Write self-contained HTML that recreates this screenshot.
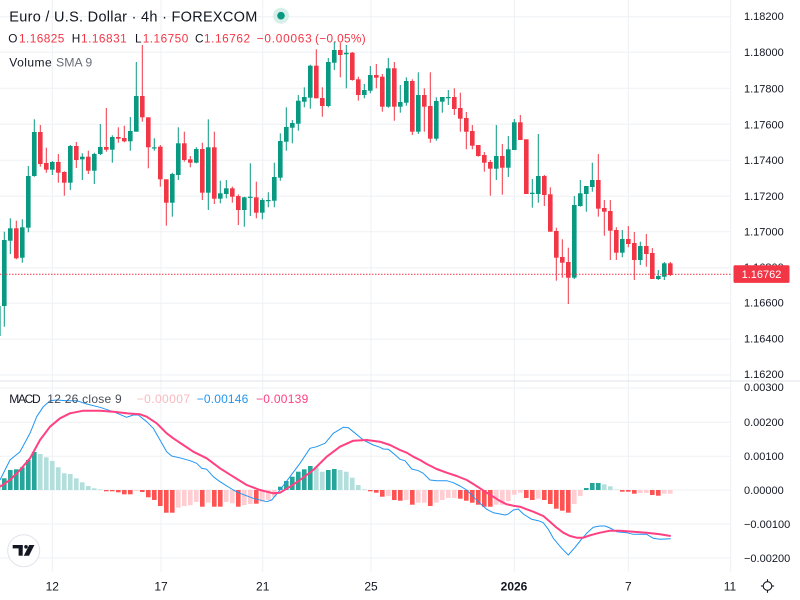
<!DOCTYPE html>
<html><head><meta charset="utf-8"><style>
html,body{margin:0;padding:0;background:#fff;}
svg{display:block;font-family:"Liberation Sans",Arial,sans-serif;}
</style></head><body>
<svg width="800" height="600" viewBox="0 0 800 600" xmlns="http://www.w3.org/2000/svg">
<rect width="800" height="600" fill="#fff"/>
<g stroke="#eef0f4" stroke-width="1">
<line x1="0" x2="731" y1="16.7" y2="16.7"/><line x1="0" x2="731" y1="52.3" y2="52.3"/><line x1="0" x2="731" y1="88.3" y2="88.3"/><line x1="0" x2="731" y1="124.3" y2="124.3"/><line x1="0" x2="731" y1="160.3" y2="160.3"/><line x1="0" x2="731" y1="196.3" y2="196.3"/><line x1="0" x2="731" y1="231.7" y2="231.7"/><line x1="0" x2="731" y1="267.7" y2="267.7"/><line x1="0" x2="731" y1="303.3" y2="303.3"/><line x1="0" x2="731" y1="339.3" y2="339.3"/><line x1="0" x2="731" y1="375" y2="375"/>
<line x1="0" x2="731" y1="388" y2="388"/><line x1="0" x2="731" y1="422.3" y2="422.3"/><line x1="0" x2="731" y1="456.3" y2="456.3"/><line x1="0" x2="731" y1="490" y2="490"/><line x1="0" x2="731" y1="524" y2="524"/><line x1="0" x2="731" y1="558" y2="558"/>
<line x1="52.3" x2="52.3" y1="0" y2="572"/><line x1="161" x2="161" y1="0" y2="572"/><line x1="262.7" x2="262.7" y1="0" y2="572"/><line x1="371" x2="371" y1="0" y2="572"/><line x1="514.3" x2="514.3" y1="0" y2="572"/><line x1="628.3" x2="628.3" y1="0" y2="572"/>
<line x1="730.7" x2="730.7" y1="0" y2="572"/>
</g>
<line x1="0" x2="800" y1="381" y2="381" stroke="#e0e3eb" stroke-width="1"/>

<!-- candles -->
<g transform="translate(0.3,0)" fill="#089981">
<rect x="-2.5" y="300" width="1" height="40"/><rect x="-4.3" y="306" width="4.6" height="30"/>
<rect x="3.5" y="231.7" width="1" height="95"/><rect x="1.7" y="240" width="4.6" height="66"/>
<rect x="9.5" y="218.3" width="1" height="35.7"/><rect x="7.7" y="228.3" width="4.6" height="12.4"/>
<rect x="21.5" y="219.3" width="1" height="43.4"/><rect x="19.7" y="227.3" width="4.6" height="30.4"/>
<rect x="27.5" y="166" width="1" height="66.3"/><rect x="25.7" y="176" width="4.6" height="51.7"/>
<rect x="33.5" y="119.3" width="1" height="57.4"/><rect x="31.7" y="132" width="4.6" height="44"/>
<rect x="51.5" y="161" width="1" height="14"/><rect x="49.7" y="162" width="4.6" height="7.7"/>
<rect x="69.5" y="145" width="1" height="45"/><rect x="67.7" y="146" width="4.6" height="36.7"/>
<rect x="81.5" y="153.3" width="1" height="26.7"/><rect x="79.7" y="156.7" width="4.6" height="2.6"/>
<rect x="93.5" y="152.7" width="1" height="31.3"/><rect x="91.7" y="154" width="4.6" height="16.7"/>
<rect x="99.5" y="124" width="1" height="31"/><rect x="97.7" y="147" width="4.6" height="7"/>
<rect x="111.5" y="135.3" width="1" height="27.4"/><rect x="109.7" y="137" width="4.6" height="12.7"/>
<rect x="129.5" y="117" width="1" height="33.7"/><rect x="127.7" y="131" width="4.6" height="10.3"/>
<rect x="135.5" y="62" width="1" height="69.7"/><rect x="133.7" y="96" width="4.6" height="35.7"/>
<rect x="153.5" y="138.3" width="1" height="12.4"/><rect x="151.7" y="147.3" width="4.6" height="1.2"/>
<rect x="171.5" y="172.7" width="1" height="44"/><rect x="169.7" y="174" width="4.6" height="28.7"/>
<rect x="177.5" y="127.3" width="1" height="52.7"/><rect x="175.7" y="143.3" width="4.6" height="31.7"/>
<rect x="195.5" y="147.3" width="1" height="16"/><rect x="193.7" y="149" width="4.6" height="13.7"/>
<rect x="207.5" y="119.3" width="1" height="90.7"/><rect x="205.7" y="147.3" width="4.6" height="45.4"/>
<rect x="219.5" y="180.7" width="1" height="22.6"/><rect x="217.7" y="193.3" width="4.6" height="5.4"/>
<rect x="225.5" y="180" width="1" height="18.3"/><rect x="223.7" y="188.3" width="4.6" height="5.7"/>
<rect x="243.5" y="196.7" width="1" height="30"/><rect x="241.7" y="197.3" width="4.6" height="12.7"/>
<rect x="249.5" y="163.3" width="1" height="52.7"/><rect x="247.7" y="196.7" width="4.6" height="1.2"/>
<rect x="261.5" y="198.3" width="1" height="21"/><rect x="259.7" y="200" width="4.6" height="12.7"/>
<rect x="267.5" y="192.3" width="1" height="15"/><rect x="265.7" y="200" width="4.6" height="1.2"/>
<rect x="273.5" y="162.7" width="1" height="44.6"/><rect x="271.7" y="177" width="4.6" height="23.7"/>
<rect x="279.5" y="133.3" width="1" height="47.4"/><rect x="277.7" y="141" width="4.6" height="36.7"/>
<rect x="285.5" y="107.3" width="1" height="43.4"/><rect x="283.7" y="127" width="4.6" height="14.7"/>
<rect x="291.5" y="120" width="1" height="23.3"/><rect x="289.7" y="123" width="4.6" height="4.7"/>
<rect x="297.5" y="95" width="1" height="35.7"/><rect x="295.7" y="100.7" width="4.6" height="23"/>
<rect x="303.5" y="87.3" width="1" height="20"/><rect x="301.7" y="97" width="4.6" height="4.7"/>
<rect x="309.5" y="64.7" width="1" height="44"/><rect x="307.7" y="65.7" width="4.6" height="32"/>
<rect x="327.5" y="58" width="1" height="49.3"/><rect x="325.7" y="62" width="4.6" height="44"/>
<rect x="333.5" y="41.7" width="1" height="28.3"/><rect x="331.7" y="50" width="4.6" height="12.7"/>
<rect x="345.5" y="45" width="1" height="43.3"/><rect x="343.7" y="52.7" width="4.6" height="1.6"/>
<rect x="363.5" y="84" width="1" height="14.3"/><rect x="361.7" y="90" width="4.6" height="5"/>
<rect x="369.5" y="66" width="1" height="27.3"/><rect x="367.7" y="75" width="4.6" height="15.7"/>
<rect x="387.5" y="58" width="1" height="49.7"/><rect x="385.7" y="68.3" width="4.6" height="38.4"/>
<rect x="399.5" y="85" width="1" height="27.7"/><rect x="397.7" y="102" width="4.6" height="4.7"/>
<rect x="405.5" y="77.3" width="1" height="28.4"/><rect x="403.7" y="81" width="4.6" height="21.7"/>
<rect x="417.5" y="72.3" width="1" height="61.7"/><rect x="415.7" y="95" width="4.6" height="36.7"/>
<rect x="435.5" y="97.3" width="1" height="43.4"/><rect x="433.7" y="101" width="4.6" height="37.7"/>
<rect x="441.5" y="97" width="1" height="15.7"/><rect x="439.7" y="97" width="4.6" height="4.7"/>
<rect x="447.5" y="90" width="1" height="15"/><rect x="445.7" y="97" width="4.6" height="1.2"/>
<rect x="495.5" y="125" width="1" height="55"/><rect x="493.7" y="156" width="4.6" height="12.7"/>
<rect x="507.5" y="136" width="1" height="41"/><rect x="505.7" y="149.3" width="4.6" height="18.4"/>
<rect x="513.5" y="119" width="1" height="31"/><rect x="511.7" y="122.3" width="4.6" height="27.7"/>
<rect x="531.5" y="179" width="1" height="28.7"/><rect x="529.7" y="192.7" width="4.6" height="1.3"/>
<rect x="537.5" y="134" width="1" height="68.7"/><rect x="535.7" y="176" width="4.6" height="18"/>
<rect x="573.5" y="196" width="1" height="83"/><rect x="571.7" y="205" width="4.6" height="72.7"/>
<rect x="579.5" y="180" width="1" height="26.7"/><rect x="577.7" y="193.3" width="4.6" height="12.7"/>
<rect x="585.5" y="186" width="1" height="25.7"/><rect x="583.7" y="186" width="4.6" height="8"/>
<rect x="591.5" y="162.7" width="1" height="29"/><rect x="589.7" y="180" width="4.6" height="7"/>
<rect x="621.5" y="230" width="1" height="27.3"/><rect x="619.7" y="239" width="4.6" height="13.7"/>
<rect x="639.5" y="241.7" width="1" height="23.3"/><rect x="637.7" y="246" width="4.6" height="14"/>
<rect x="657.5" y="270" width="1" height="10"/><rect x="655.7" y="276" width="4.6" height="3"/>
<rect x="663.5" y="262" width="1" height="18"/><rect x="661.7" y="263.3" width="4.6" height="13.4"/>
</g>
<g transform="translate(0.3,0)" fill="#f23645">
<rect x="15.5" y="220.7" width="1" height="38.6"/><rect x="13.7" y="228.3" width="4.6" height="30"/>
<rect x="39.5" y="125" width="1" height="41.7"/><rect x="37.7" y="132" width="4.6" height="32"/>
<rect x="45.5" y="147.7" width="1" height="25"/><rect x="43.7" y="163" width="4.6" height="6.7"/>
<rect x="57.5" y="154" width="1" height="28.7"/><rect x="55.7" y="162" width="4.6" height="10.7"/>
<rect x="63.5" y="171.3" width="1" height="24.4"/><rect x="61.7" y="172" width="4.6" height="10.7"/>
<rect x="75.5" y="142" width="1" height="26"/><rect x="73.7" y="146" width="4.6" height="14"/>
<rect x="87.5" y="150.7" width="1" height="23.3"/><rect x="85.7" y="156.7" width="4.6" height="14"/>
<rect x="105.5" y="108" width="1" height="43.7"/><rect x="103.7" y="147" width="4.6" height="2.7"/>
<rect x="117.5" y="127.3" width="1" height="15.4"/><rect x="115.7" y="137" width="4.6" height="1.7"/>
<rect x="123.5" y="125.7" width="1" height="16.6"/><rect x="121.7" y="138" width="4.6" height="3.3"/>
<rect x="141.5" y="45" width="1" height="76.7"/><rect x="139.7" y="96" width="4.6" height="21.3"/>
<rect x="147.5" y="117.3" width="1" height="51"/><rect x="145.7" y="117.3" width="4.6" height="30"/>
<rect x="159.5" y="145" width="1" height="41.7"/><rect x="157.7" y="146.7" width="4.6" height="32.6"/>
<rect x="165.5" y="179.3" width="1" height="46.4"/><rect x="163.7" y="179.3" width="4.6" height="23.4"/>
<rect x="183.5" y="131.7" width="1" height="30"/><rect x="181.7" y="143.3" width="4.6" height="16.7"/>
<rect x="189.5" y="156" width="1" height="11.3"/><rect x="187.7" y="159.3" width="4.6" height="3.4"/>
<rect x="201.5" y="142.7" width="1" height="57.3"/><rect x="199.7" y="149" width="4.6" height="43.7"/>
<rect x="213.5" y="131.7" width="1" height="72.3"/><rect x="211.7" y="147.3" width="4.6" height="51.4"/>
<rect x="231.5" y="186.7" width="1" height="16"/><rect x="229.7" y="188.3" width="4.6" height="8.4"/>
<rect x="237.5" y="194.3" width="1" height="30.7"/><rect x="235.7" y="196" width="4.6" height="14"/>
<rect x="255.5" y="181.7" width="1" height="36.6"/><rect x="253.7" y="197.3" width="4.6" height="15.4"/>
<rect x="315.5" y="49.3" width="1" height="49"/><rect x="313.7" y="65.7" width="4.6" height="32.6"/>
<rect x="321.5" y="87.3" width="1" height="29.4"/><rect x="319.7" y="98" width="4.6" height="8"/>
<rect x="339.5" y="42.7" width="1" height="34.6"/><rect x="337.7" y="50" width="4.6" height="5"/>
<rect x="351.5" y="52" width="1" height="28.7"/><rect x="349.7" y="52.7" width="4.6" height="27.3"/>
<rect x="357.5" y="76.7" width="1" height="24"/><rect x="355.7" y="79.3" width="4.6" height="15.7"/>
<rect x="375.5" y="64" width="1" height="24.3"/><rect x="373.7" y="75" width="4.6" height="2.7"/>
<rect x="381.5" y="74" width="1" height="37.7"/><rect x="379.7" y="76.7" width="4.6" height="30"/>
<rect x="393.5" y="62" width="1" height="58.7"/><rect x="391.7" y="68.3" width="4.6" height="38.4"/>
<rect x="411.5" y="79.3" width="1" height="55.7"/><rect x="409.7" y="81" width="4.6" height="50.7"/>
<rect x="423.5" y="88.3" width="1" height="43.4"/><rect x="421.7" y="95" width="4.6" height="11.7"/>
<rect x="429.5" y="72.3" width="1" height="70.4"/><rect x="427.7" y="106" width="4.6" height="32.7"/>
<rect x="453.5" y="88.3" width="1" height="26.7"/><rect x="451.7" y="97" width="4.6" height="12"/>
<rect x="459.5" y="92.7" width="1" height="39"/><rect x="457.7" y="108" width="4.6" height="10.7"/>
<rect x="465.5" y="112" width="1" height="37.3"/><rect x="463.7" y="118" width="4.6" height="13.7"/>
<rect x="471.5" y="125" width="1" height="24.3"/><rect x="469.7" y="131" width="4.6" height="14.7"/>
<rect x="477.5" y="145" width="1" height="11.7"/><rect x="475.7" y="145" width="4.6" height="11"/>
<rect x="483.5" y="152" width="1" height="19.7"/><rect x="481.7" y="155" width="4.6" height="7.7"/>
<rect x="489.5" y="160" width="1" height="35.7"/><rect x="487.7" y="162" width="4.6" height="6.7"/>
<rect x="501.5" y="144" width="1" height="50.7"/><rect x="499.7" y="156" width="4.6" height="11.7"/>
<rect x="519.5" y="115" width="1" height="25"/><rect x="517.7" y="122.3" width="4.6" height="17.7"/>
<rect x="525.5" y="139.3" width="1" height="54.7"/><rect x="523.7" y="139.3" width="4.6" height="54.7"/>
<rect x="543.5" y="175" width="1" height="31"/><rect x="541.7" y="176" width="4.6" height="19"/>
<rect x="549.5" y="187.3" width="1" height="44.4"/><rect x="547.7" y="194.3" width="4.6" height="37.4"/>
<rect x="555.5" y="227.7" width="1" height="53"/><rect x="553.7" y="231" width="4.6" height="26.7"/>
<rect x="561.5" y="239.3" width="1" height="38.4"/><rect x="559.7" y="257" width="4.6" height="5.7"/>
<rect x="567.5" y="247.7" width="1" height="56.3"/><rect x="565.7" y="262" width="4.6" height="15.7"/>
<rect x="597.5" y="154" width="1" height="62.7"/><rect x="595.7" y="180" width="4.6" height="28.7"/>
<rect x="603.5" y="200" width="1" height="35.7"/><rect x="601.7" y="208" width="4.6" height="3.7"/>
<rect x="609.5" y="200" width="1" height="60"/><rect x="607.7" y="211" width="4.6" height="19.7"/>
<rect x="615.5" y="227.3" width="1" height="32.7"/><rect x="613.7" y="230" width="4.6" height="22.7"/>
<rect x="627.5" y="226" width="1" height="21.3"/><rect x="625.7" y="239" width="4.6" height="5"/>
<rect x="633.5" y="232" width="1" height="48"/><rect x="631.7" y="243" width="4.6" height="17"/>
<rect x="645.5" y="234" width="1" height="32.7"/><rect x="643.7" y="246" width="4.6" height="8"/>
<rect x="651.5" y="248" width="1" height="31"/><rect x="649.7" y="253" width="4.6" height="26"/>
<rect x="669.5" y="262" width="1" height="14"/><rect x="667.7" y="263.3" width="4.6" height="11.7"/>
</g>
<line x1="0" x2="731" y1="274.3" y2="274.3" stroke="#f23645" stroke-width="1" stroke-dasharray="1.5 1.5"/>

<!-- MACD histogram -->
<g transform="translate(0.3,0)">
<g fill="#26a69a">
<rect x="1.7" y="478.3" width="4.6" height="11.7"/><rect x="7.7" y="470" width="4.6" height="20"/><rect x="13.7" y="469.3" width="4.6" height="20.7"/><rect x="19.7" y="467.3" width="4.6" height="22.7"/><rect x="25.7" y="460" width="4.6" height="30"/><rect x="31.7" y="452" width="4.6" height="38"/>
<rect x="277.7" y="486.7" width="4.6" height="3.3"/><rect x="283.7" y="481" width="4.6" height="9"/><rect x="289.7" y="476.7" width="4.6" height="13.3"/><rect x="295.7" y="471.7" width="4.6" height="18.3"/><rect x="301.7" y="469.3" width="4.6" height="20.7"/><rect x="307.7" y="466" width="4.6" height="24"/><rect x="325.7" y="470" width="4.6" height="20"/><rect x="331.7" y="469" width="4.6" height="21"/>
<rect x="583.7" y="488" width="4.6" height="2"/><rect x="589.7" y="483" width="4.6" height="7"/><rect x="595.7" y="483" width="4.6" height="7"/>
</g>
<g fill="#b2dfdb">
<rect x="-4.3" y="483" width="4.6" height="7"/>
<rect x="37.7" y="454" width="4.6" height="36"/><rect x="43.7" y="457.3" width="4.6" height="32.7"/><rect x="49.7" y="461" width="4.6" height="29"/><rect x="55.7" y="467.3" width="4.6" height="22.7"/><rect x="61.7" y="473.3" width="4.6" height="16.7"/><rect x="67.7" y="474" width="4.6" height="16"/><rect x="73.7" y="478.3" width="4.6" height="11.7"/><rect x="79.7" y="482.3" width="4.6" height="7.7"/><rect x="85.7" y="486" width="4.6" height="4"/><rect x="91.7" y="488.3" width="4.6" height="1.7"/><rect x="97.7" y="489.3" width="4.6" height="0.7"/>
<rect x="313.7" y="467.3" width="4.6" height="22.7"/><rect x="319.7" y="471.7" width="4.6" height="18.3"/><rect x="337.7" y="470" width="4.6" height="20"/><rect x="343.7" y="471.7" width="4.6" height="18.3"/><rect x="349.7" y="477.7" width="4.6" height="12.3"/><rect x="355.7" y="485" width="4.6" height="5"/><rect x="361.7" y="489.3" width="4.6" height="0.7"/>
<rect x="601.7" y="484.3" width="4.6" height="5.7"/><rect x="607.7" y="486.3" width="4.6" height="3.7"/><rect x="613.7" y="489.5" width="4.6" height="0.5"/>
</g>
<g fill="#ff5252">
<rect x="103.7" y="490" width="4.6" height="1.3"/><rect x="109.7" y="490" width="4.6" height="1.3"/><rect x="115.7" y="490" width="4.6" height="2.3"/><rect x="121.7" y="490" width="4.6" height="4.3"/><rect x="127.7" y="490" width="4.6" height="4.3"/><rect x="139.7" y="490" width="4.6" height="2"/><rect x="145.7" y="490" width="4.6" height="7.3"/><rect x="151.7" y="490" width="4.6" height="10"/><rect x="157.7" y="490" width="4.6" height="16"/><rect x="163.7" y="490" width="4.6" height="22.7"/><rect x="169.7" y="490" width="4.6" height="22.7"/>
<rect x="199.7" y="490" width="4.6" height="16.7"/><rect x="211.7" y="490" width="4.6" height="16.7"/><rect x="217.7" y="490" width="4.6" height="16.7"/><rect x="235.7" y="490" width="4.6" height="16.7"/><rect x="253.7" y="490" width="4.6" height="13.7"/>
<rect x="367.7" y="490" width="4.6" height="1.3"/><rect x="373.7" y="490" width="4.6" height="2.7"/><rect x="379.7" y="490" width="4.6" height="6.7"/><rect x="391.7" y="490" width="4.6" height="10"/><rect x="397.7" y="490" width="4.6" height="10.7"/><rect x="409.7" y="490" width="4.6" height="14.7"/><rect x="427.7" y="490" width="4.6" height="16"/>
<rect x="457.7" y="490" width="4.6" height="8.7"/><rect x="463.7" y="490" width="4.6" height="10.7"/><rect x="469.7" y="490" width="4.6" height="12.7"/><rect x="475.7" y="490" width="4.6" height="14.7"/><rect x="481.7" y="490" width="4.6" height="16.7"/><rect x="487.7" y="490" width="4.6" height="16.7"/>
<rect x="523.7" y="490" width="4.6" height="8"/><rect x="529.7" y="490" width="4.6" height="10"/><rect x="541.7" y="490" width="4.6" height="10"/><rect x="547.7" y="490" width="4.6" height="14"/><rect x="553.7" y="490" width="4.6" height="18.7"/><rect x="559.7" y="490" width="4.6" height="20.7"/><rect x="565.7" y="490" width="4.6" height="22.7"/>
<rect x="619.7" y="490" width="4.6" height="1.7"/><rect x="625.7" y="490" width="4.6" height="1.7"/><rect x="631.7" y="490" width="4.6" height="3.7"/><rect x="649.7" y="490" width="4.6" height="5"/><rect x="655.7" y="490" width="4.6" height="5.7"/>
</g>
<g fill="#ffcdd2">
<rect x="133.7" y="490" width="4.6" height="1"/><rect x="175.7" y="490" width="4.6" height="17.7"/><rect x="181.7" y="490" width="4.6" height="16"/><rect x="187.7" y="490" width="4.6" height="15.3"/><rect x="193.7" y="490" width="4.6" height="12"/><rect x="205.7" y="490" width="4.6" height="12.7"/><rect x="223.7" y="490" width="4.6" height="12"/><rect x="229.7" y="490" width="4.6" height="13.3"/><rect x="241.7" y="490" width="4.6" height="15"/><rect x="247.7" y="490" width="4.6" height="14"/><rect x="259.7" y="490" width="4.6" height="11.7"/><rect x="265.7" y="490" width="4.6" height="10"/><rect x="271.7" y="490" width="4.6" height="6.7"/>
<rect x="385.7" y="490" width="4.6" height="6"/><rect x="403.7" y="490" width="4.6" height="10"/><rect x="415.7" y="490" width="4.6" height="12.7"/><rect x="421.7" y="490" width="4.6" height="12.7"/><rect x="433.7" y="490" width="4.6" height="12.7"/><rect x="439.7" y="490" width="4.6" height="10"/><rect x="445.7" y="490" width="4.6" height="8"/><rect x="451.7" y="490" width="4.6" height="8"/>
<rect x="493.7" y="490" width="4.6" height="14.7"/><rect x="499.7" y="490" width="4.6" height="14.7"/><rect x="505.7" y="490" width="4.6" height="11.3"/><rect x="511.7" y="490" width="4.6" height="4.7"/><rect x="517.7" y="490" width="4.6" height="2.7"/><rect x="535.7" y="490" width="4.6" height="8.7"/><rect x="571.7" y="490" width="4.6" height="14"/><rect x="577.7" y="490" width="4.6" height="6"/>
<rect x="637.7" y="490" width="4.6" height="3"/><rect x="643.7" y="490" width="4.6" height="3"/><rect x="661.7" y="490" width="4.6" height="3.7"/><rect x="667.7" y="490" width="4.6" height="3.7"/>
</g>
</g>

<!-- MACD lines -->
<polyline fill="none" stroke="#2196f3" stroke-width="1" stroke-linejoin="round" points="0,480 5,470 10,460 20,451.7 30,433.3 36.7,416.7 43.3,406.7 50,400.7 56.7,400 66.7,400.7 76.7,400.7 86.7,404 100,407.3 113.3,411.7 126.7,417.3 133.3,415 138.3,415 146.7,421.7 153.3,428.3 160,440 166.7,451.7 171.7,456 181.7,458.3 190,460.7 196.7,463.3 201.7,468.3 206.7,469.3 213.3,476.7 220,481.7 233.3,490 240,493.3 253.3,498.3 266.7,501.7 271.7,500 280,490 290,476.7 300,463.3 310,448.3 316.7,446.7 325,443.3 333.3,433.3 343.3,427.3 348.3,427.7 353.3,431.7 363.3,440 373.3,445 380,447.3 383.3,449 388.3,449.3 393.3,453.3 400,459.3 405,460.7 411.7,469 418.3,470.7 423.3,473.3 430,480 436.7,480.7 446.7,480.7 453.3,482.7 460,486 466.7,490 473.3,496.7 480,503.3 486.7,509.3 493.3,512.7 500,514 505,515 508.3,514 513.3,510 518.3,509 523.3,514 531.7,519.3 538.3,520.7 543.3,522.7 548.3,529.3 553.3,538.3 561.7,548.3 568.3,555 575,547.3 581.7,539 586.7,533.3 593.3,527.3 600,526 605,526 610,528 616.7,531.7 626.7,532.7 633.3,534.3 646.7,534.3 653.3,538.3 660,539.3 670.7,538.7"/>
<polyline fill="none" stroke="#ff4081" stroke-width="2" stroke-linejoin="round" points="0,486.7 10,480 20,470 30,458.3 40,440 50,426.7 60,418.3 70,413.3 83.3,410.7 100,410.7 113.3,411.7 126.7,413.3 140,414.3 146.7,416.7 156.7,423.3 166.7,433.3 173.3,438.3 183.3,445 193.3,451.7 206.7,458.3 220,468.3 233.3,476.7 246.7,485 260,490 273.3,493.3 280,492.7 290,486.7 300,480 313.3,470 326.7,456.7 340,446.7 353.3,440.7 366.7,440 380,441.7 390,445 400,450 406.7,452.7 413.3,456.7 420,460 426.7,464 436.7,469 446.7,472.7 456.7,476 466.7,480 473.3,484 480,488.3 486.7,492.7 493.3,496.7 500,501 506.7,504.3 513.3,505.7 520,506.7 526.7,509.3 533.3,511.7 543.3,516 550,521.7 556.7,527.7 563.3,532.7 570,536 576.7,537.7 583.3,537.7 590,535.3 600,532.7 610,530.7 620,530.7 633.3,531.7 646.7,532.7 660,534.3 670.7,536"/>

<!-- header legend -->
<text x="9.3" y="21.6" font-size="14.5" fill="#131722" textLength="248" lengthAdjust="spacing">Euro / U.S. Dollar · 4h · FOREXCOM</text>
<circle cx="281" cy="15.7" r="8" fill="#d7efe9"/>
<circle cx="281" cy="15.7" r="3.8" fill="#089981"/>
<g font-size="11.8">
<text x="8.3" y="42.7" fill="#131722">O</text>
<text x="19" y="42.7" fill="#f23645" textLength="45.3" lengthAdjust="spacing">1.16825</text>
<text x="71.7" y="42.7" fill="#131722">H</text>
<text x="81" y="42.7" fill="#f23645" textLength="45.7" lengthAdjust="spacing">1.16831</text>
<text x="135" y="42.7" fill="#131722">L</text>
<text x="142.7" y="42.7" fill="#f23645" textLength="45.6" lengthAdjust="spacing">1.16750</text>
<text x="195" y="42.7" fill="#131722">C</text>
<text x="204" y="42.7" fill="#f23645" textLength="46" lengthAdjust="spacing">1.16762</text>
<text x="256.7" y="42.7" fill="#f23645" textLength="55" lengthAdjust="spacing">−0.00063</text>
<text x="315" y="42.7" fill="#f23645" textLength="50.7" lengthAdjust="spacing">(−0.05%)</text>
</g>
<text x="9.3" y="66.5" font-size="12" fill="#131722" textLength="42.4" lengthAdjust="spacing">Volume</text>
<text x="56" y="66.5" font-size="12.3" fill="#6a6d78">SMA 9</text>

<!-- MACD legend -->
<g font-size="12">
<text x="9.3" y="403.2" fill="#131722" textLength="31.4" lengthAdjust="spacing">MACD</text>
<text x="47.3" y="403.2" fill="#4a4d57" textLength="74.4" lengthAdjust="spacing">12 26 close 9</text>
<text x="136.7" y="403.2" fill="#f9b9c0" textLength="53.3" lengthAdjust="spacing">−0.00007</text>
<text x="196.7" y="403.2" fill="#2196f3" textLength="51.6" lengthAdjust="spacing">−0.00146</text>
<text x="256" y="403.2" fill="#ff4081" textLength="52.3" lengthAdjust="spacing">−0.00139</text>
</g>

<!-- price axis -->
<g font-size="11" fill="#131722">
<text x="744" y="20">1.18200</text>
<text x="744" y="56.2">1.18000</text>
<text x="744" y="92.5">1.17800</text>
<text x="744" y="128.5">1.17600</text>
<text x="744" y="164">1.17400</text>
<text x="744" y="200">1.17200</text>
<text x="744" y="235.3">1.17000</text>
<text x="744" y="271">1.16800</text>
<text x="744" y="306.6">1.16600</text>
<text x="744" y="342.6">1.16400</text>
<text x="744" y="378.2">1.16200</text>
<text x="744" y="391.2">0.00300</text>
<text x="744" y="426.2">0.00200</text>
<text x="744" y="460.2">0.00100</text>
<text x="744" y="493.9">0.00000</text>
<text x="744" y="527.9">−0.00100</text>
<text x="744" y="562.2">−0.00200</text>
</g>
<rect x="733.5" y="265.3" width="56" height="17.6" rx="1.5" fill="#f23645"/>
<text x="761.5" y="278" font-size="11" fill="#fff" text-anchor="middle">1.16762</text>

<!-- time axis -->
<g font-size="12" fill="#131722" text-anchor="middle">
<text x="52.3" y="590.5">12</text>
<text x="161" y="590.5">17</text>
<text x="262.7" y="590.5">21</text>
<text x="371" y="590.5">25</text>
<text x="514" y="590.5" font-weight="bold">2026</text>
<text x="628.3" y="590.5">7</text>
<text x="730" y="590.5">11</text>
</g>
<g transform="translate(767.5,586)" stroke="#131722" stroke-width="1.1" fill="none">
<circle r="4.3"/>
<line x1="0" y1="-4.3" x2="0" y2="-6.8"/><line x1="0" y1="4.3" x2="0" y2="6.8"/>
<line x1="-4.3" y1="0" x2="-6.6" y2="0"/><line x1="4.3" y1="0" x2="6.6" y2="0"/>
</g>

<!-- TV logo -->
<circle cx="23.7" cy="550.7" r="16" fill="#fff" stroke="#e0e3eb" stroke-width="1"/>
<g fill="#131722">
<rect x="12.7" y="545" width="10" height="3.4"/>
<rect x="18.6" y="545" width="4.1" height="10.7"/>
<circle cx="26" cy="546.8" r="1.8"/>
<polygon points="29.2,545 34.4,545 29,555.7 23.8,555.7"/>
</g>
</svg>
</body></html>
